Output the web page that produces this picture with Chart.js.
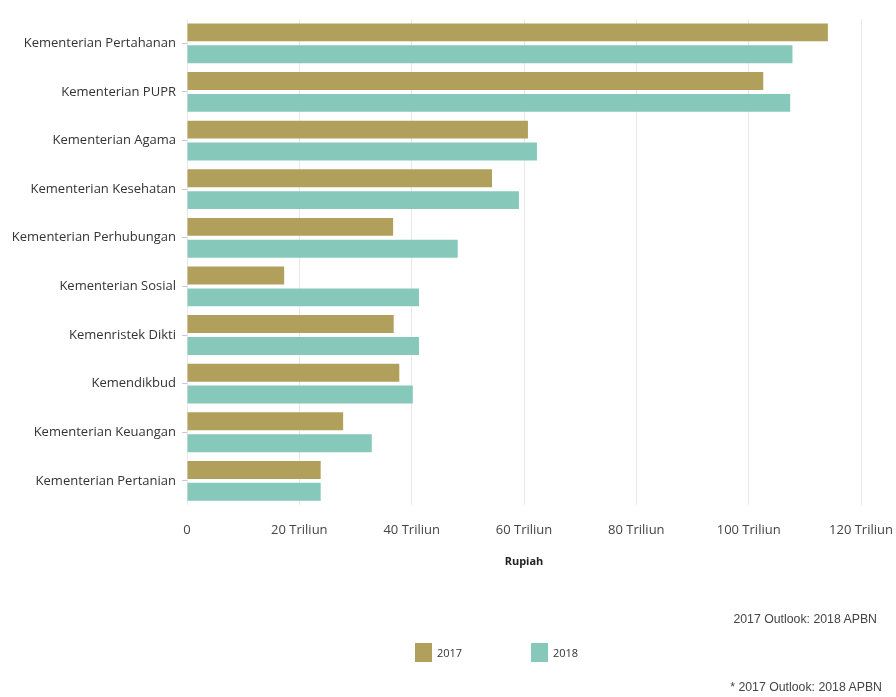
<!DOCTYPE html>
<html>
<head>
<meta charset="utf-8">
<script src="https://cdn.jsdelivr.net/npm/chart.js@4.4.0/dist/chart.umd.min.js"></script>
<style>
  body { margin: 0; background: #fff; }
  #wrap { position: relative; width: 896px; height: 697px; }
  .note { position: absolute; font: 12.3px "Liberation Sans", Arial, sans-serif; color: #444; }
  #legend { position: absolute; top: 643px; left: 415px; display: flex; font: 11px "Open Sans", sans-serif; color: #333; }
  #legend .item { display: flex; align-items: center; width: 116px; }
  #legend .box { width: 17px; height: 19px; margin-right: 5px; }
</style>
</head>
<body>
<div id="wrap">
  <canvas id="chart"></canvas>
  <div class="note" style="top:612px; right:19px">2017 Outlook: 2018 APBN</div>
  <div id="legend"></div>
  <div class="note" style="top:680px; right:14px">* 2017 Outlook: 2018 APBN</div>
</div>
<script>
// kategori kementerian
const kementerian = [
  'Kementerian Pertahanan',
  'Kementerian PUPR',
  'Kementerian Agama',
  'Kementerian Kesehatan',
  'Kementerian Perhubungan',
  'Kementerian Sosial',
  'Kemenristek Dikti',
  'Kemendikbud',
  'Kementerian Keuangan',
  'Kementerian Pertanian'
];

// anggaran (triliun rupiah)
const nilai2017 = [114.1, 102.6, 60.7, 54.3, 36.7, 17.3, 36.8, 37.8, 27.8, 23.8];
const nilai2018 = [107.8, 107.4, 62.3, 59.1, 48.2, 41.3, 41.3, 40.2, 32.9, 23.8];

const seriesLabels = ['2017', '2018'];
const seriesColors = ['#b0a05c', '#86c9bb'];
const xTickLabels = ['0', '20 Triliun', '40 Triliun', '60 Triliun', '80 Triliun', '100 Triliun', '120 Triliun'];

const ctx = document.getElementById('chart');

const chart = new Chart(ctx, {
    type: 'bar',
    data: {
        labels: kementerian,
        datasets: [{
            label: seriesLabels[0],
            data: nilai2017,
            backgroundColor: seriesColors[0]
        }, {
            label: seriesLabels[1],
            data: nilai2018,
            backgroundColor: seriesColors[1]
        }]
    },
    options: {
        indexAxis: 'y',
        responsive: true,
        maintainAspectRatio: false,
        animation: false,
        layout: {
            padding: { top: 19, bottom: 129, left: 0, right: 0 }
        },
        datasets: {
            bar: {
                categoryPercentage: 0.9,
                barPercentage: 0.82
            }
        },
        plugins: {
            legend: { display: false },
            tooltip: { enabled: false }
        },
        scales: {
            x: {
                min: 0,
                max: 120,
                ticks: {
                    stepSize: 20,
                    padding: 17,
                    color: '#444',
                    font: { family: '"Open Sans"', size: 13 },
                    callback: (value, index) => xTickLabels[index]
                },
                grid: {
                    color: '#e8e8e8',
                    drawTicks: false
                },
                border: { display: false },
                title: {
                    display: true,
                    text: 'Rupiah',
                    color: '#222',
                    font: { family: '"Open Sans"', size: 11, weight: 'bold' },
                    padding: { top: 0, bottom: 0 }
                },
                // label terakhir boleh terpotong di tepi kanan
                afterFit: (scale) => { scale.paddingRight = 35; }
            },
            y: {
                ticks: {
                    padding: 6,
                    color: '#333',
                    font: { family: '"Open Sans"', size: 13 }
                },
                grid: {
                    offset: false,
                    drawOnChartArea: false,
                    tickLength: 5,
                    color: '#c8c8d8'
                },
                border: { display: false },
                afterFit: (scale) => { scale.width = 187; }
            }
        }
    }
});

// legenda manual
const legend = document.getElementById('legend');
seriesLabels.forEach((s, i) => {
    legend.innerHTML += `<div class="item"><div class="box" style="background:${seriesColors[i]}"></div>${s}</div>`;
});
</script>
</body>
</html>
